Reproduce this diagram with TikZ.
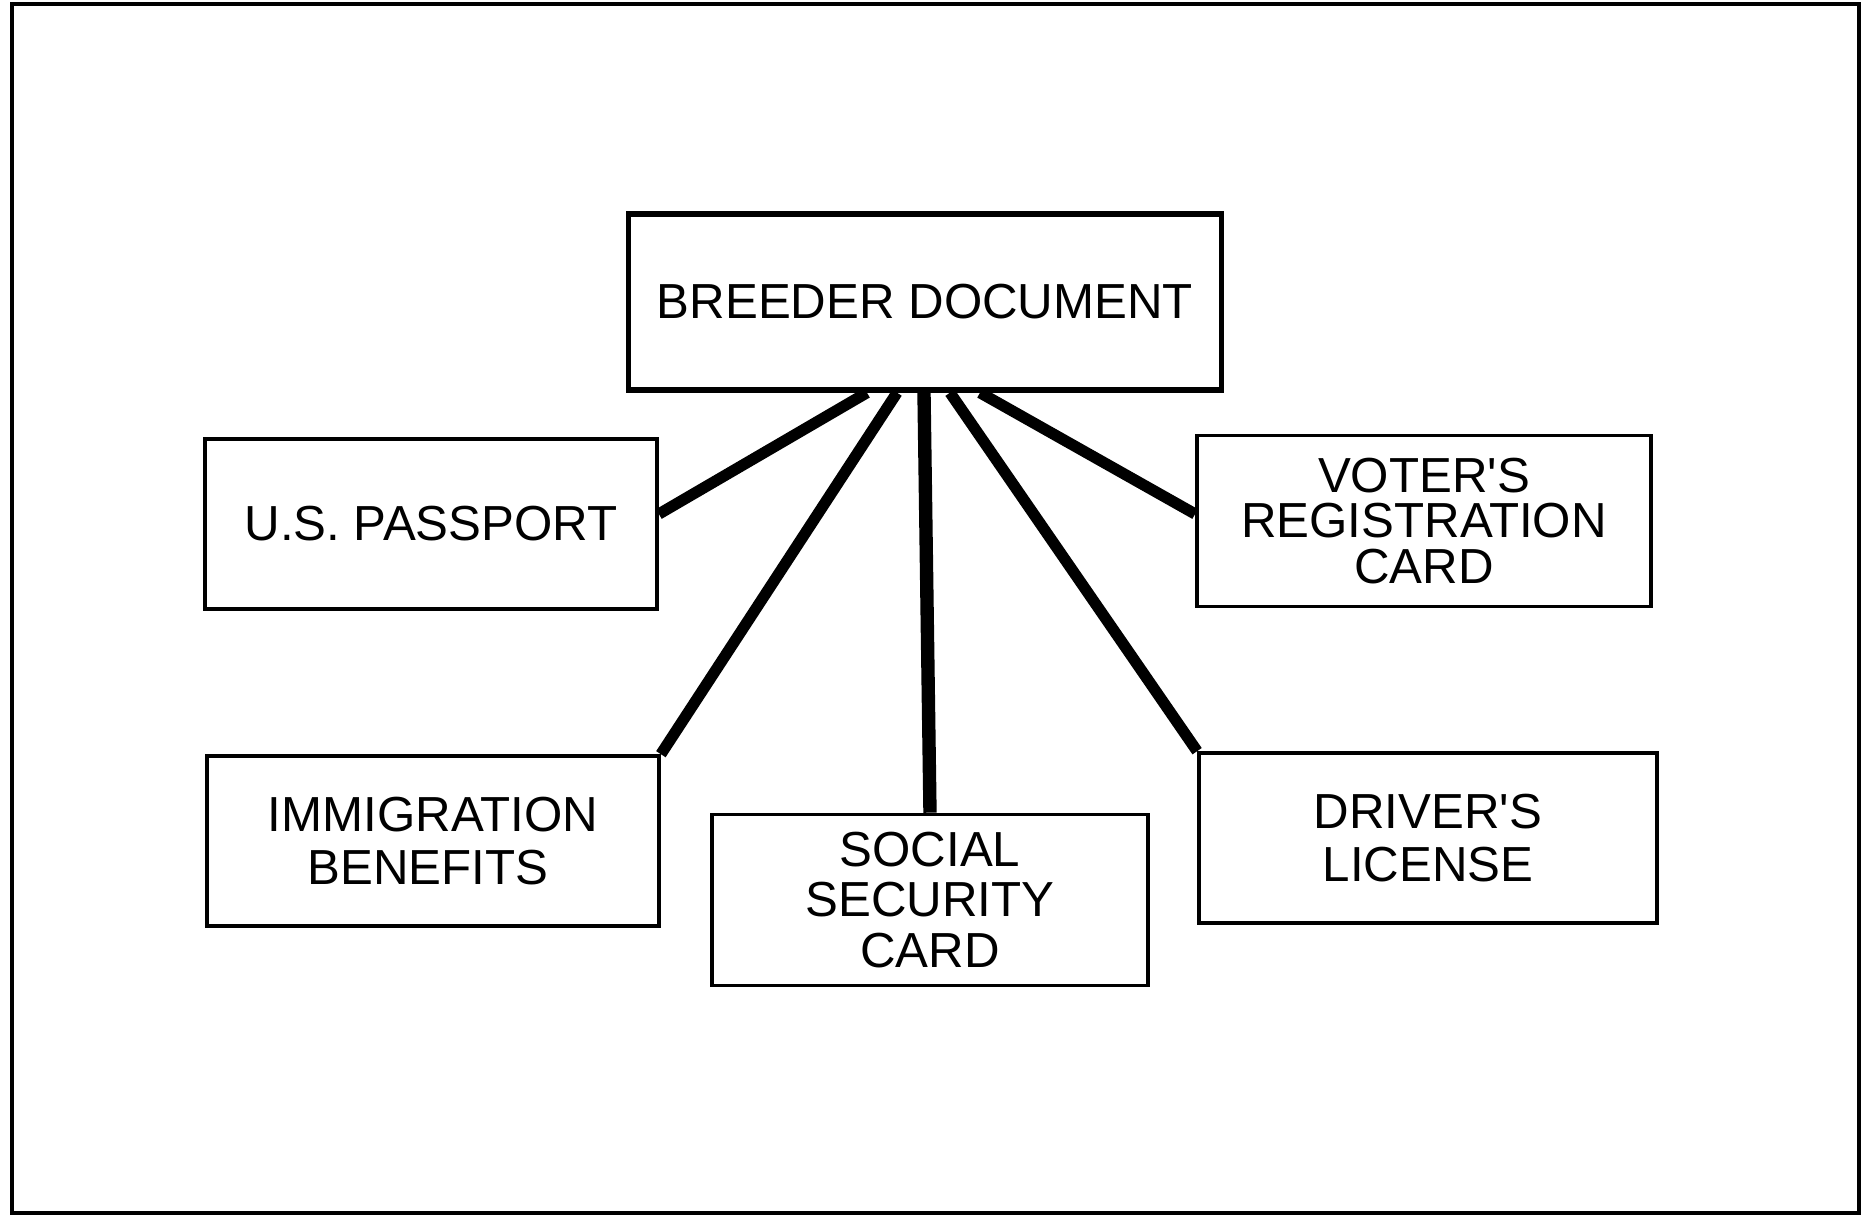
\documentclass[tikz,border=0pt]{standalone}
\usepackage{fontspec}
\setmainfont{Liberation Sans}
\tikzset{
  doc/.style={draw, line width=1pt, minimum width=4.52cm, minimum height=1.70cm,
    align=center, inner sep=0pt, font=\fontsize{14}{15}\selectfont},
  link/.style={line width=3.2pt},
}
\begin{document}
\begin{tikzpicture}[x=0.01cm,y=-0.01cm]
    \useasboundingbox (0,0) rectangle (1862,1221);
    \draw[line width=1.1pt] (12,4) rectangle (1859,1213);
    % top box
    \node[doc, line width=1.5pt, minimum width=5.92cm, minimum height=1.76cm] (breeder) at (925,302) {BREEDER DOCUMENT};
    % documents obtained with it
    \node[doc] (passport) at (431,524) {U.S. PASSPORT};
    \node[doc, minimum width=4.54cm, minimum height=1.71cm, font=\fontsize{14}{13}\selectfont] (voter) at (1424,521) {VOTER\textquotesingle S\\REGISTRATION\\CARD};
    \node[doc] (immig) at (433,841) {IMMIGRATION\\BENEFITS\hspace*{0.1cm}};
    \node[doc, minimum width=4.36cm, minimum height=1.71cm, font=\fontsize{14}{14.3}\selectfont] (social) at (930,900) {SOCIAL\\SECURITY\\CARD};
    \node[doc, minimum width=4.58cm] (driver) at (1428,838) {DRIVER\textquotesingle S\\LICENSE};
    \draw[link] ([xshift=-0.58cm]breeder.south) -- ([yshift=0.1cm]passport.east);
    \draw[link] ([xshift=-0.28cm]breeder.south) -- (immig.north east);
    \draw[link, line width=3.8pt] ([xshift=-0.01cm]breeder.south) -- (social.north);
    \draw[link] ([xshift=0.25cm]breeder.south) -- (driver.north west);
    \draw[link] ([xshift=0.55cm]breeder.south) -- ([yshift=0.07cm]voter.west);
\end{tikzpicture}
\end{document}
